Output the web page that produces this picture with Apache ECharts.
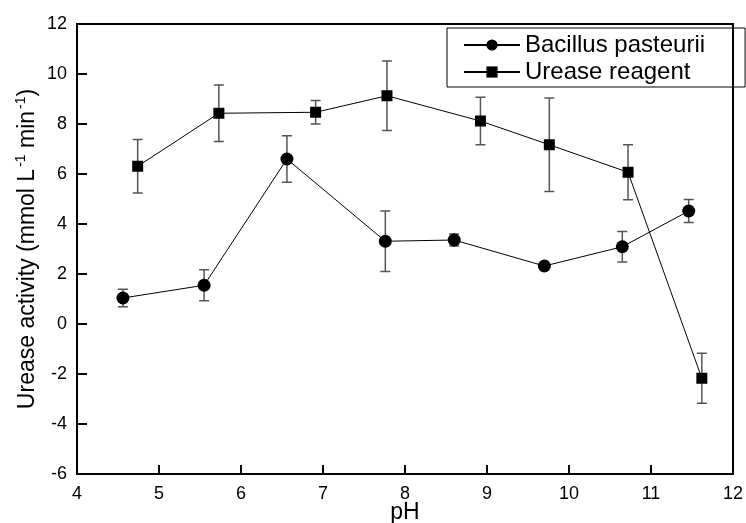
<!DOCTYPE html>
<html>
<head>
<meta charset="utf-8">
<script src="https://cdn.jsdelivr.net/npm/echarts@6/dist/echarts.min.js"></script>
<style>
  html, body { margin: 0; padding: 0; background: #fff; }
  #chart { width: 746px; height: 523px; }
</style>
</head>
<body>
<div id="chart"></div>
<script>
// 数据
const bacillusPH = [4.56, 5.55, 6.56, 7.76, 8.60, 9.70, 10.65, 11.46]
const bacillusVal = [1.04, 1.55, 6.60, 3.31, 3.36, 2.32, 3.09, 4.52]
const bacillusErr = [0.35, 0.62, 0.93, 1.21, 0.24, 0.08, 0.61, 0.46]

const ureasePH = [4.74, 5.73, 6.91, 7.78, 8.92, 9.76, 10.72, 11.62]
const ureaseVal = [6.31, 8.43, 8.47, 9.13, 8.12, 7.17, 6.07, -2.17]
const ureaseErr = [1.07, 1.13, 0.47, 1.39, 0.95, 1.87, 1.10, 1.00]

const fontFamily = '"Liberation Sans", Arial, sans-serif'
const myChart = echarts.init(document.getElementById('chart'))

// 误差棒
const errorBar = (xs, ys, es) => ({
  type: 'custom',
  silent: true,
  z: 1,
  data: xs.map((x, i) => [x, ys[i] - es[i], ys[i] + es[i]]),
  renderItem: (params, api) => {
    const low = api.coord([api.value(0), api.value(1)])
    const high = api.coord([api.value(0), api.value(2)])
    const cap = 5
    const style = { stroke: '#555', lineWidth: 1.5 }
    return {
      type: 'group',
      children: [
        { type: 'line', shape: { x1: low[0], y1: low[1], x2: high[0], y2: high[1] }, style },
        { type: 'line', shape: { x1: low[0] - cap, y1: low[1], x2: low[0] + cap, y2: low[1] }, style },
        { type: 'line', shape: { x1: high[0] - cap, y1: high[1], x2: high[0] + cap, y2: high[1] }, style }
      ]
    }
  }
})

const chartOption = {
  animation: false,
  textStyle: { fontFamily },
  grid: {
    left: 77,
    right: 13,
    top: 24,
    bottom: 49,
    containLabel: false,
    outerBoundsMode: 'none',
    show: true,
    borderColor: '#000',
    borderWidth: 2
  },
  legend: {
    orient: 'vertical',
    left: 447,
    top: 28,
    width: 275,
    padding: [5, 40, 3, 16],
    itemGap: 3,
    itemWidth: 56,
    itemHeight: 14,
    borderColor: '#000',
    borderWidth: 1,
    textStyle: { fontSize: 24, color: '#000', fontFamily },
    data: ['Bacillus pasteurii', 'Urease reagent']
  },
  xAxis: {
    type: 'value',
    min: 4,
    max: 12,
    interval: 1,
    name: 'pH',
    nameLocation: 'middle',
    nameGap: 27,
    nameMoveOverlap: false,
    nameTextStyle: { fontSize: 23, color: '#000', fontFamily },
    axisLine: { onZero: false, lineStyle: { color: '#000', width: 2 } },
    axisTick: { inside: true, length: 9, lineStyle: { color: '#000', width: 2 } },
    axisLabel: { fontSize: 18, color: '#000', margin: 11, fontFamily },
    splitLine: { show: false }
  },
  yAxis: {
    type: 'value',
    min: -6,
    max: 12,
    interval: 2,
    name: '{n|Urease activity (mmol L}{s|-1}{n| min}{s|-1}{n|)}',
    nameLocation: 'middle',
    nameGap: 35,
    nameMoveOverlap: false,
    nameRotate: 90,
    nameTextStyle: {
      color: '#000',
      fontFamily,
      rich: {
        n: { fontSize: 23, lineHeight: 28, color: '#000', fontFamily },
        s: { fontSize: 14, lineHeight: 28, verticalAlign: 'top', color: '#000', fontFamily, padding: [0, 0, 0, 2] }
      }
    },
    axisLine: { onZero: false, lineStyle: { color: '#000', width: 2 } },
    axisTick: { inside: true, length: 10, lineStyle: { color: '#000', width: 2 } },
    axisLabel: { fontSize: 18, color: '#000', margin: 10, fontFamily },
    splitLine: { show: false }
  },
  series: [
    errorBar(bacillusPH, bacillusVal, bacillusErr),
    errorBar(ureasePH, ureaseVal, ureaseErr),
    {
      name: 'Bacillus pasteurii',
      type: 'line',
      z: 3,
      symbol: 'circle',
      symbolSize: 13,
      color: '#000',
      lineStyle: { color: '#000', width: 1 },
      itemStyle: { color: '#000' },
      data: bacillusPH.map((x, i) => [x, bacillusVal[i]])
    },
    {
      name: 'Urease reagent',
      type: 'line',
      z: 3,
      symbol: 'rect',
      symbolSize: 11,
      color: '#000',
      lineStyle: { color: '#000', width: 1 },
      itemStyle: { color: '#000' },
      data: ureasePH.map((x, i) => [x, ureaseVal[i]])
    }
  ]
}

myChart.setOption(chartOption)
window.addEventListener('resize', myChart.resize)
</script>
</body>
</html>
